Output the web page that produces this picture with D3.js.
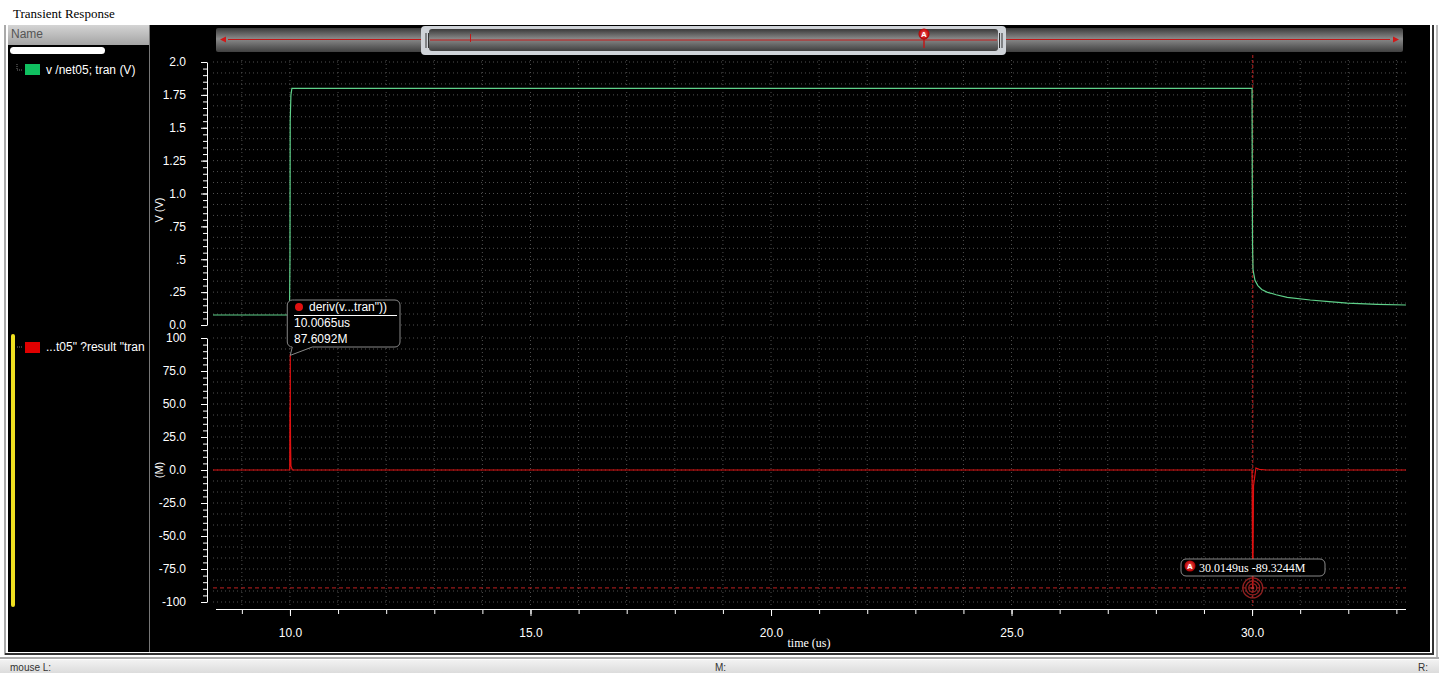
<!DOCTYPE html>
<meta charset="utf-8">
<style>
body { margin: 0; background: #fff; overflow: hidden; }
svg { display: block; }
.tick text { font: 12px "Liberation Sans", sans-serif; fill: #fff; }
</style>
<body>
<svg width="1439" height="673"></svg>
<script src="https://d3js.org/d3.v7.min.js"></script>
<script>
// green trace: v /net05
var vTime  = [8.4, 9.99, 10.0, 10.005, 10.01, 10.02, 10.04, 30.0, 30.005, 30.01, 30.02, 30.06, 30.12, 30.2, 30.31, 30.5, 30.73, 31.21, 31.6, 31.98, 32.6, 33.2];
var vValue = [0.076, 0.076, 0.5, 1.55, 1.62, 1.75, 1.80, 1.80, 1.02, 0.6, 0.42, 0.34, 0.30, 0.27, 0.25, 0.23, 0.21, 0.19, 0.178, 0.167, 0.157, 0.152];
// red trace: deriv(v ... tran) in M
var dTime  = [8.4, 9.995, 10.0, 10.002, 10.004, 10.0065, 10.008, 10.012, 10.02, 10.05, 30.0, 30.005, 30.0149, 30.03, 30.08, 30.15, 30.3, 33.2];
var dValue = [0, 0, 48, 30, 52, 87.6092, 45, 20, 3, 0, 0, -40, -89.3244, -12, 1.5, 0.5, 0, 0];

var vTicks = [0, 0.25, 0.5, 0.75, 1.0, 1.25, 1.5, 1.75, 2.0];
var vTickLabels = ["0.0", ".25", ".5", ".75", "1.0", "1.25", "1.5", "1.75", "2.0"];
var dTicks = [-100, -75, -50, -25, 0, 25, 50, 75, 100];
var dTickLabels = ["-100", "-75.0", "-50.0", "-25.0", "0.0", "25.0", "50.0", "75.0", "100"];
var tTicks = [10, 15, 20, 25, 30];
var tTickLabels = ["10.0", "15.0", "20.0", "25.0", "30.0"];

var markerA = {t: 30.0149, v: -89.3244, label: "30.0149us -89.3244M"};
var markerTip = {t: 10.0065, v: 87.6092, lines: ["10.0065us", "87.6092M"]};

var svg = d3.select("svg");
var defs = svg.append("defs");

var g1 = defs.append("linearGradient").attr("id", "hdr").attr("x1", 0).attr("x2", 0).attr("y1", 0).attr("y2", 1);
g1.append("stop").attr("offset", "0").attr("stop-color", "#d4d4d4");
g1.append("stop").attr("offset", "1").attr("stop-color", "#a4a4a4");
var g2 = defs.append("linearGradient").attr("id", "scroll").attr("x1", 0).attr("x2", 0).attr("y1", 0).attr("y2", 1);
g2.append("stop").attr("offset", "0").attr("stop-color", "#3a3a3a");
g2.append("stop").attr("offset", "0.45").attr("stop-color", "#8a8a8a");
g2.append("stop").attr("offset", "1").attr("stop-color", "#404040");
var g3 = defs.append("linearGradient").attr("id", "status").attr("x1", 0).attr("x2", 0).attr("y1", 0).attr("y2", 1);
g3.append("stop").attr("offset", "0").attr("stop-color", "#f2f2f2");
g3.append("stop").attr("offset", "1").attr("stop-color", "#dcdcdc");
var g4 = defs.append("radialGradient").attr("id", "ball");
g4.append("stop").attr("offset", "0").attr("stop-color", "#ff5a5a");
g4.append("stop").attr("offset", "1").attr("stop-color", "#b00000");

// window frame
svg.append("text").attr("x", 13).attr("y", 18)
  .style("font", "13px 'Liberation Serif', serif").attr("fill", "#000").text("Transient Response");
svg.append("rect").attr("x", 8).attr("y", 25).attr("width", 1422).attr("height", 627).attr("fill", "#000");
svg.append("line").attr("x1", 5).attr("x2", 5).attr("y1", 25).attr("y2", 655).attr("stroke", "#555");
svg.append("line").attr("x1", 1433).attr("x2", 1433).attr("y1", 25).attr("y2", 655).attr("stroke", "#333").attr("stroke-width", 2);
svg.append("line").attr("x1", 1437).attr("x2", 1437).attr("y1", 25).attr("y2", 657).attr("stroke", "#777");
svg.append("line").attr("x1", 5).attr("x2", 1433).attr("y1", 654).attr("y2", 654).attr("stroke", "#333").attr("stroke-width", 2);
svg.append("line").attr("x1", 0).attr("x2", 1439).attr("y1", 658).attr("y2", 658).attr("stroke", "#555");
svg.append("rect").attr("x", 0).attr("y", 660).attr("width", 1439).attr("height", 13).attr("fill", "url(#status)");
[["mouse L:", 10], ["M:", 715], ["R:", 1418]].forEach(function(s) {
  svg.append("text").attr("x", s[1]).attr("y", 671).style("font", "10px 'Liberation Sans', sans-serif")
    .attr("fill", "#333").text(s[0]);
});

// left name panel
svg.append("rect").attr("x", 8).attr("y", 25).attr("width", 141).attr("height", 20).attr("fill", "url(#hdr)");
svg.append("text").attr("x", 11).attr("y", 38).style("font", "12px 'Liberation Sans', sans-serif")
  .attr("fill", "#555").text("Name");
svg.append("line").attr("x1", 149.5).attr("x2", 149.5).attr("y1", 25).attr("y2", 652).attr("stroke", "#777");
svg.append("rect").attr("x", 10).attr("y", 47).attr("width", 95).attr("height", 7).attr("rx", 3.5).attr("fill", "#fff");
svg.append("path").attr("d", "M17,64V70H23").attr("fill", "none").attr("stroke", "#777").attr("stroke-dasharray", "1,1");
svg.append("rect").attr("x", 25).attr("y", 64).attr("width", 15).attr("height", 11).attr("fill", "#10c060");
svg.append("text").attr("x", 46).attr("y", 74).style("font", "12px 'Liberation Sans', sans-serif")
  .attr("fill", "#fff").text("v /net05; tran (V)");
svg.append("rect").attr("x", 11).attr("y", 334).attr("width", 4).attr("height", 273).attr("rx", 2).attr("fill", "#f0e020");
svg.append("path").attr("d", "M17,347H23").attr("fill", "none").attr("stroke", "#777").attr("stroke-dasharray", "1,1");
svg.append("rect").attr("x", 25).attr("y", 342).attr("width", 15).attr("height", 11).attr("fill", "#e00000");
svg.append("text").attr("x", 46).attr("y", 351).style("font", "12px 'Liberation Sans', sans-serif")
  .attr("fill", "#fff").text("...t05\" ?result \"tran");

// scales
var x = d3.scaleLinear().domain([8.4, 33.2]).range([213, 1406]);
var yV = d3.scaleLinear().domain([0, 2]).range([325, 62]);
var yD = d3.scaleLinear().domain([-100, 100]).range([602, 338]);

// scrollbar
svg.append("rect").attr("x", 216).attr("y", 28).attr("width", 1187).attr("height", 24).attr("rx", 2).attr("fill", "url(#scroll)");
svg.append("line").attr("x1", 228).attr("x2", 1390).attr("y1", 39.5).attr("y2", 39.5).attr("stroke", "#c01818");
svg.append("path").attr("d", "M220,39.5l6,-3v6z").attr("fill", "#d01818");
svg.append("path").attr("d", "M1399,39.5l-6,-3v6z").attr("fill", "#d01818");
svg.append("rect").attr("x", 421).attr("y", 26).attr("width", 585).attr("height", 29).attr("rx", 4).attr("fill", "#cfd3d8");
svg.append("rect").attr("x", 429).attr("y", 29).attr("width", 569).attr("height", 22).attr("rx", 3).attr("fill", "url(#scroll)");
svg.append("line").attr("x1", 430).attr("x2", 997).attr("y1", 40).attr("y2", 40).attr("stroke", "#c01818");
svg.append("line").attr("x1", 470.5).attr("x2", 470.5).attr("y1", 34).attr("y2", 42).attr("stroke", "#c01818");
[426, 428.5, 999.5, 1002].forEach(function(px) {
  svg.append("line").attr("x1", px).attr("x2", px).attr("y1", 33).attr("y2", 48).attr("stroke", "#333");
});
svg.append("line").attr("x1", 924).attr("x2", 924).attr("y1", 38).attr("y2", 48).attr("stroke", "#c01818").attr("stroke-width", 1.5);
svg.append("circle").attr("cx", 924).attr("cy", 34).attr("r", 5.5).attr("fill", "url(#ball)");
svg.append("text").attr("x", 924).attr("y", 37).attr("text-anchor", "middle")
  .style("font", "bold 8px 'Liberation Sans', sans-serif").attr("fill", "#fff").text("A");

// grid
var grid = svg.append("g").attr("stroke", "#505050").attr("stroke-dasharray", "1,3").attr("stroke-width", 1);
d3.range(9, 34).forEach(function(t) {
  grid.append("line").attr("x1", x(t)).attr("x2", x(t)).attr("y1", 60).attr("y2", 327);
  grid.append("line").attr("x1", x(t)).attr("x2", x(t)).attr("y1", 336).attr("y2", 606);
});
d3.range(0, 25).forEach(function(i) {
  var v = i * 0.25 / 3;
  grid.append("line").attr("x1", 213).attr("x2", 1406).attr("y1", yV(v)).attr("y2", yV(v));
});
d3.range(0, 25).forEach(function(i) {
  var v = -100 + i * 25 / 3;
  grid.append("line").attr("x1", 213).attr("x2", 1406).attr("y1", yD(v)).attr("y2", yD(v));
});

// axes
function styleAxis(sel) {
  sel.select(".domain").attr("stroke", "#fff");
  sel.selectAll(".tick line").attr("stroke", "#fff");
}
var axV = svg.append("g").attr("transform", "translate(207,0)")
  .call(d3.axisLeft(yV).tickValues(vTicks).tickSize(6).tickSizeOuter(0).tickPadding(15)
    .tickFormat(function(d, i) { return vTickLabels[i]; }));
styleAxis(axV);
svg.append("g").attr("transform", "translate(207,0)")
  .call(d3.axisLeft(yV).tickValues(d3.range(0, 41).map(function(i) { return i * 0.05; })).tickSize(4).tickFormat(""))
  .call(function(s) { s.select(".domain").remove(); s.selectAll("line").attr("stroke", "#fff"); });

var axD = svg.append("g").attr("transform", "translate(207,0)")
  .call(d3.axisLeft(yD).tickValues(dTicks).tickSize(6).tickSizeOuter(0).tickPadding(15)
    .tickFormat(function(d, i) { return dTickLabels[i]; }));
styleAxis(axD);
svg.append("g").attr("transform", "translate(207,0)")
  .call(d3.axisLeft(yD).tickValues(d3.range(0, 41).map(function(i) { return -100 + i * 5; })).tickSize(4).tickFormat(""))
  .call(function(s) { s.select(".domain").remove(); s.selectAll("line").attr("stroke", "#fff"); });

var axT = svg.append("g").attr("transform", "translate(0,609)")
  .call(d3.axisBottom(x).tickValues(tTicks).tickSize(7).tickSizeOuter(0).tickPadding(12)
    .tickFormat(function(d, i) { return tTickLabels[i]; }));
styleAxis(axT);
axT.select(".domain").attr("d", "M216,0.5H1406");
svg.append("g").attr("transform", "translate(0,609)")
  .call(d3.axisBottom(x).tickValues(d3.range(9, 34)).tickSize(5).tickFormat(""))
  .call(function(s) { s.select(".domain").remove(); s.selectAll("line").attr("stroke", "#fff"); });

svg.append("text").attr("transform", "translate(163,210) rotate(-90)").attr("text-anchor", "middle")
  .style("font", "11px 'Liberation Sans', sans-serif").attr("fill", "#fff").text("V (V)");
svg.append("text").attr("transform", "translate(163,470) rotate(-90)").attr("text-anchor", "middle")
  .style("font", "11px 'Liberation Sans', sans-serif").attr("fill", "#fff").text("(M)");
svg.append("text").attr("x", 809).attr("y", 647).attr("text-anchor", "middle")
  .style("font", "12px 'Liberation Serif', serif").attr("fill", "#fff").text("time (us)");

// marker A lines
svg.append("line").attr("x1", x(markerA.t)).attr("x2", x(markerA.t)).attr("y1", 55).attr("y2", 606)
  .attr("stroke", "#c02020").attr("stroke-dasharray", "3,2");
svg.append("line").attr("x1", 213).attr("x2", 1406).attr("y1", yD(markerA.v)).attr("y2", yD(markerA.v))
  .attr("stroke", "#c02020").attr("stroke-dasharray", "4,3");

// traces
var lineV = d3.line().x(function(d, i) { return x(vTime[i]); }).y(function(d) { return yV(d); });
var lineD = d3.line().x(function(d, i) { return x(dTime[i]); }).y(function(d) { return yD(d); });
svg.append("path").attr("d", lineV(vValue)).attr("fill", "none").attr("stroke", "#5fd18a").attr("stroke-width", 1.2);
svg.append("path").attr("d", lineD(dValue)).attr("fill", "none").attr("stroke", "#e01010").attr("stroke-width", 1.2);

// marker A symbol and label
var ax = x(markerA.t), ay = yD(markerA.v);
[10, 7, 4].forEach(function(r) {
  svg.append("circle").attr("cx", ax).attr("cy", ay).attr("r", r).attr("fill", "none").attr("stroke", "#902020").attr("stroke-width", 1.3);
});
svg.append("circle").attr("cx", ax).attr("cy", ay).attr("r", 1.5).attr("fill", "#b03030");
svg.append("rect").attr("x", 1181).attr("y", 559).attr("width", 144).attr("height", 17).attr("rx", 5)
  .attr("fill", "#000").attr("stroke", "#888");
svg.append("circle").attr("cx", 1190).attr("cy", 566).attr("r", 5.5).attr("fill", "url(#ball)");
svg.append("text").attr("x", 1190).attr("y", 569).attr("text-anchor", "middle")
  .style("font", "bold 8px 'Liberation Sans', sans-serif").attr("fill", "#fff").text("A");
svg.append("text").attr("x", 1199).attr("y", 572).style("font", "12px 'Liberation Serif', serif")
  .attr("fill", "#fff").text(markerA.label);

// tooltip at rising edge
var tx = x(markerTip.t), ty = yD(markerTip.v);
svg.append("path")
  .attr("d", "M" + (tx + 4) + ",300H395a5,5 0 0 1 5,5V342a5,5 0 0 1 -5,5H" + (tx + 22) + "L" + (tx) + "," + (ty + 1) + "L" + (tx + 2) + ",347a5,5 0 0 1 -5,-5" +
    "V305a5,5 0 0 1 5,-5z")
  .attr("fill", "#000").attr("stroke", "#888");
svg.append("circle").attr("cx", 299).attr("cy", 307).attr("r", 4).attr("fill", "#e01010");
svg.append("text").attr("x", 309).attr("y", 311).style("font", "12px 'Liberation Sans', sans-serif")
  .attr("fill", "#fff").text("deriv(v...tran\"))");
svg.append("line").attr("x1", 294).attr("x2", 397).attr("y1", 315.5).attr("y2", 315.5).attr("stroke", "#fff");
svg.append("text").attr("x", 294).attr("y", 327).style("font", "12px 'Liberation Sans', sans-serif")
  .attr("fill", "#fff").text(markerTip.lines[0]);
svg.append("text").attr("x", 294).attr("y", 343).style("font", "12px 'Liberation Sans', sans-serif")
  .attr("fill", "#fff").text(markerTip.lines[1]);
</script>
</body>
